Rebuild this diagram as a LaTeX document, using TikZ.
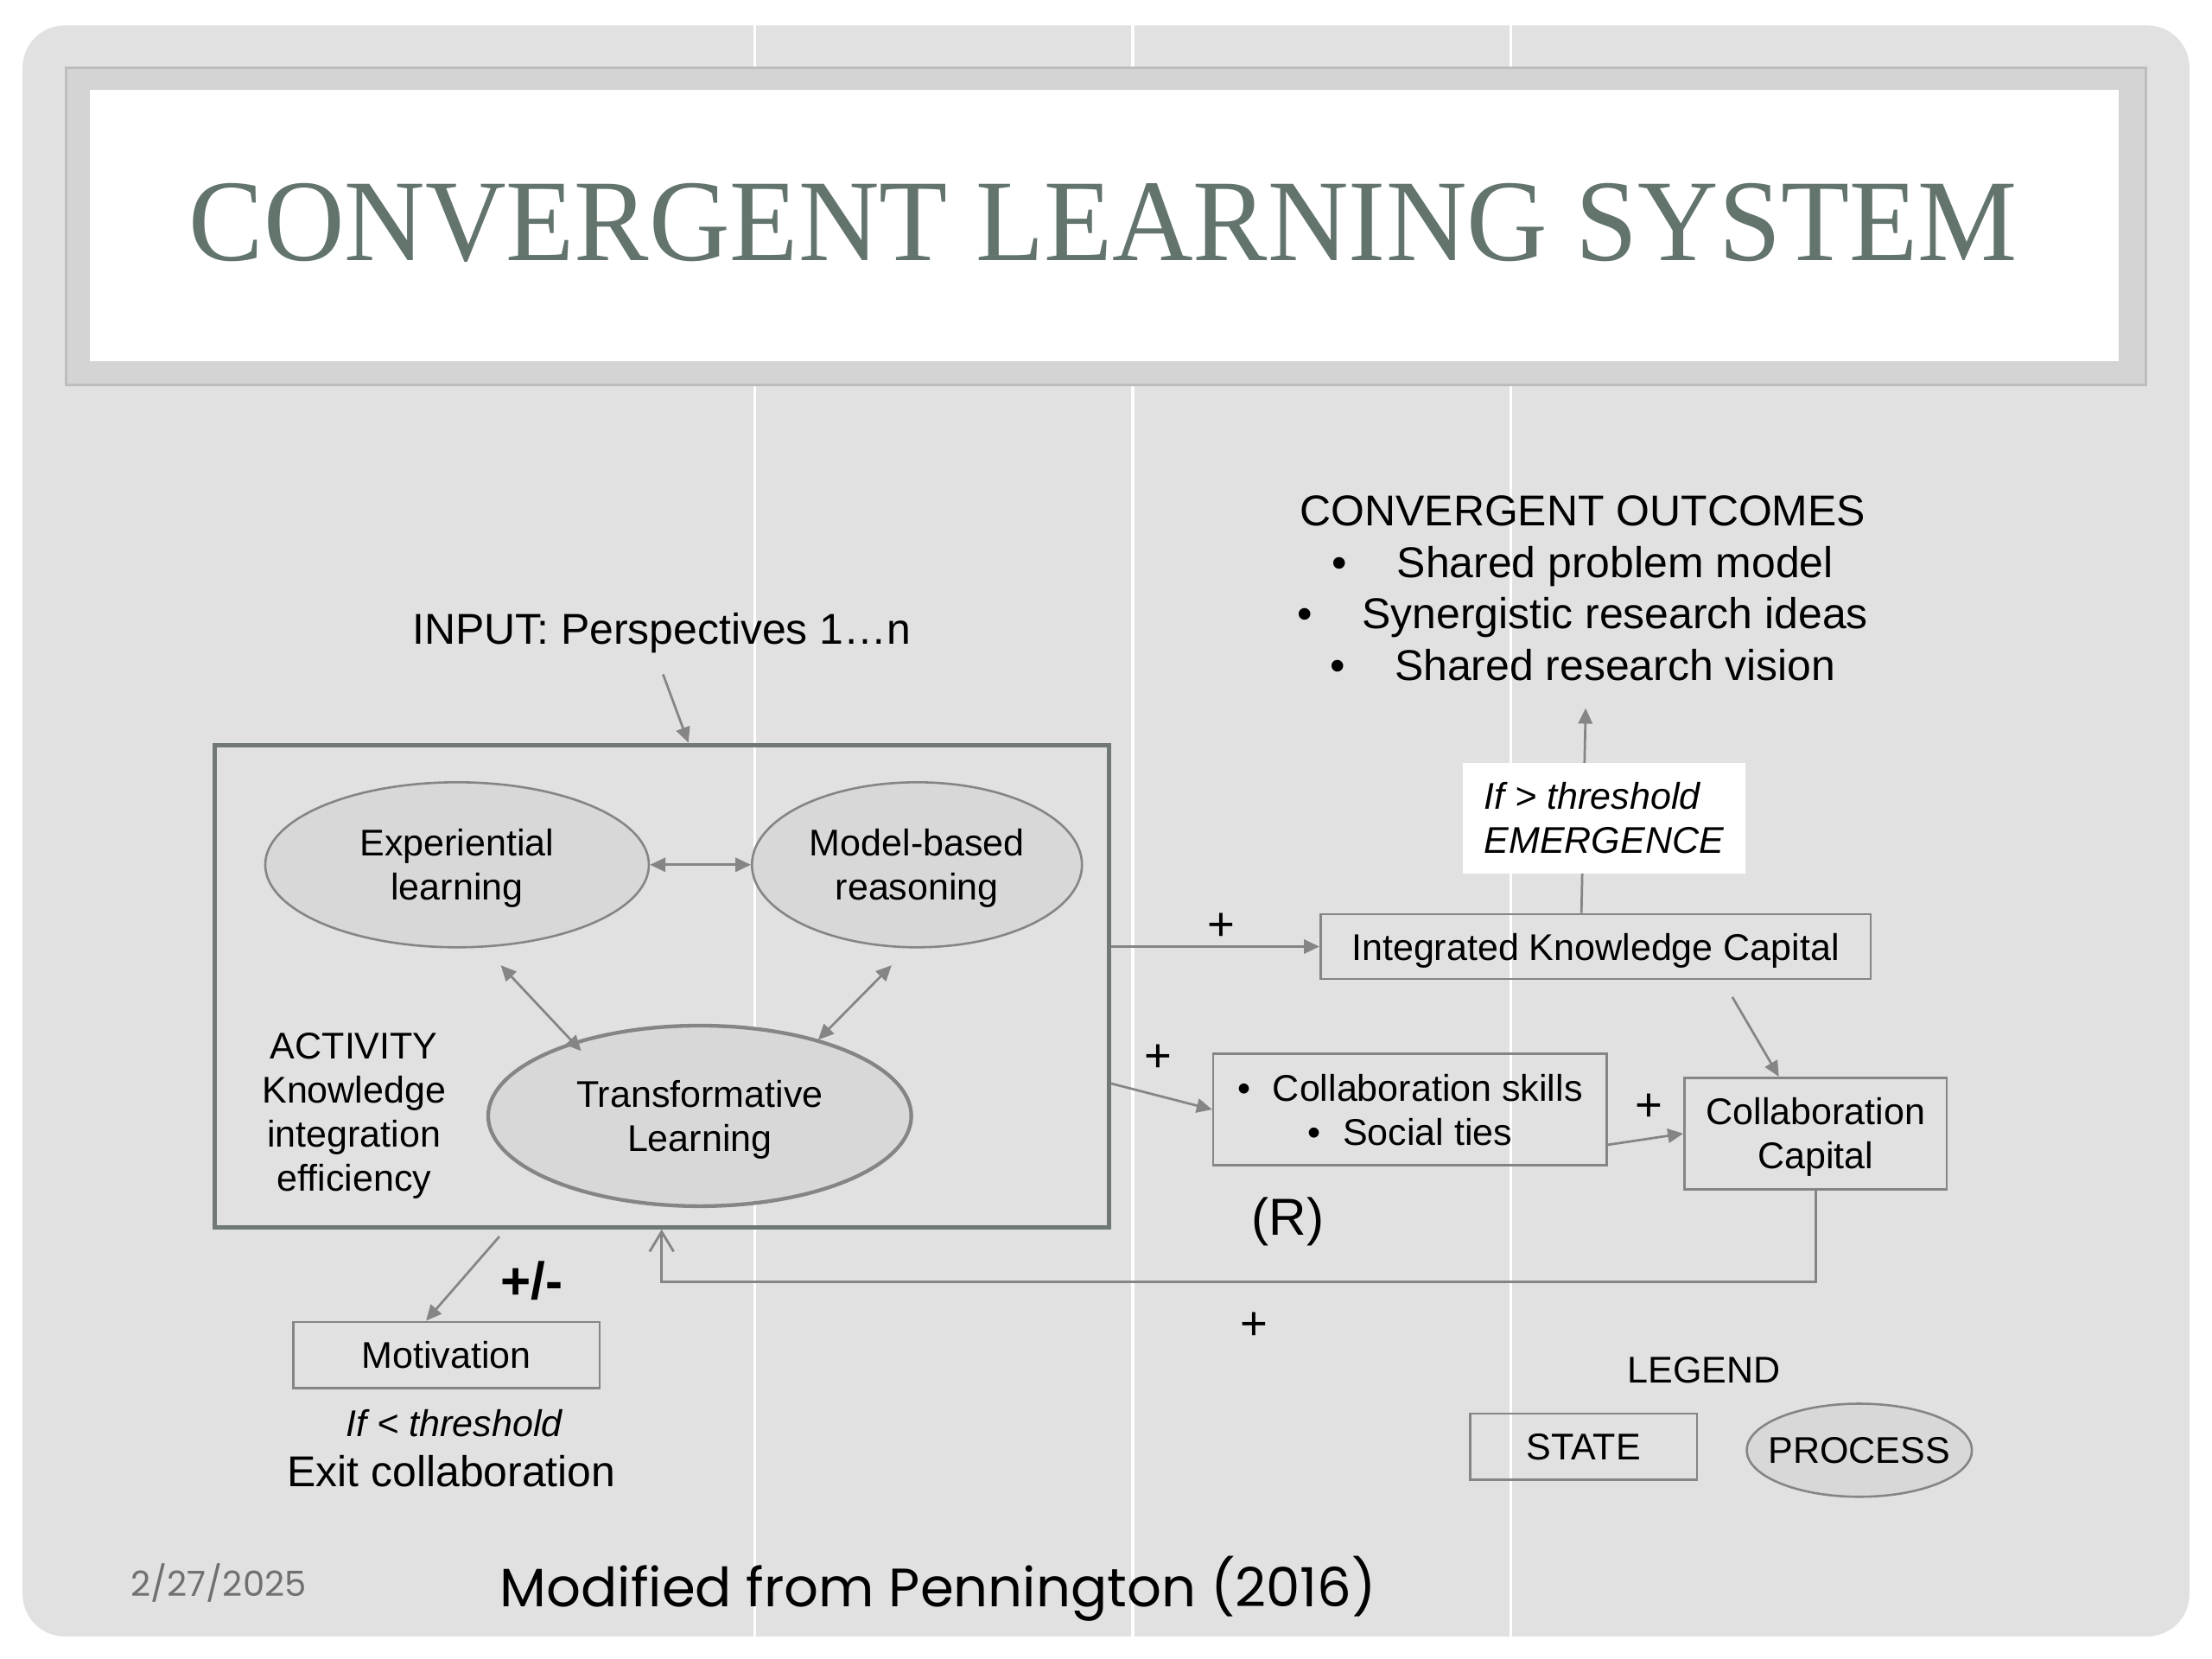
\documentclass[tikz,border=0pt]{standalone}
\usepackage{fontspec}
\setmainfont{Liberation Sans}
\newfontfamily\titlefont{Liberation Serif}
\newfontfamily\footfont{Poppins}
\usetikzlibrary{shapes.geometric,arrows.meta,calc,positioning}

\definecolor{slidebg}{HTML}{E1E1E1}
\definecolor{bandgray}{HTML}{D4D4D4}
\definecolor{bandline}{HTML}{BDBDBD}
\definecolor{ellfill}{HTML}{D8D8D8}
\definecolor{linegray}{HTML}{858585}
\definecolor{actline}{HTML}{6F7873}
\definecolor{titlegreen}{HTML}{62746C}
\definecolor{dategray}{HTML}{707070}

\newcommand{\smallfs}{\fontsize{15}{17.8}\selectfont}
\newcommand{\bigfs}{\fontsize{17.4}{20.8}\selectfont}

\begin{document}
\begin{tikzpicture}[x=0.02cm,y=-0.02cm,>={Triangle[length=0.22cm,width=0.2cm]},
  statebox/.style={draw=linegray,line width=0.9pt,rectangle,inner sep=0pt,text depth=0pt,font=\smallfs},
  process/.style={draw=linegray,fill=ellfill,ellipse,inner sep=0pt,text depth=0pt,line width=0.9pt,font=\smallfs,align=center},
  arr/.style={->,draw=linegray,line width=0.95pt},
  darr/.style={<->,draw=linegray,line width=0.95pt},
  fbarr/.style={-{Straight Barb[length=0.28cm,width=0.34cm]},draw=linegray,line width=1pt},
  sign/.style={font=\fontsize{19}{22}\selectfont}]
\useasboundingbox (0,0) rectangle (1568,1176);

% slide
\fill[white] (0,0) rectangle (1568,1176);
\fill[slidebg,rounded corners=0.6cm] (16,18) rectangle (1552,1160);
\foreach \xv in {535,803,1071}
  \draw[white,line width=1.2pt] (\xv,18) -- (\xv,1160);
\filldraw[fill=bandgray,draw=bandline,line width=1.2pt] (47,48) rectangle (1521,273);
\fill[white] (64,64) rectangle (1502,256);
\node[font=\titlefont\fontsize{47}{50}\selectfont,text=titlegreen] (title) at (782,158)
  {\scalebox{0.961}[1]{CONVERGENT LEARNING SYSTEM}};

% activity
\node[draw=actline,line width=1.7pt,minimum width=12.68cm,minimum height=6.84cm,inner sep=0pt] (act) at (469,699) {};
\node[process,minimum width=5.44cm,minimum height=2.34cm] (exp) at (324,613) {Experiential\\learning};
\node[process,minimum width=4.68cm,minimum height=2.34cm] (mbr) at (650,613) {Model-based\\reasoning};
\node[process,line width=1.5pt,minimum width=6cm,minimum height=2.56cm] (trans) at (496,791) {Transformative\\Learning};
\node[font=\smallfs,align=center,anchor=north,inner sep=0pt] (actlbl) at (251,732)
  {ACTIVITY\\Knowledge\\integration\\efficiency};

\draw[darr] (exp.east) -- (mbr.west);
\draw[darr] ([xshift=0.62cm,yshift=-0.24cm]exp.south) -- ([xshift=-1.68cm,yshift=0.92cm]trans.center);
\draw[darr] ([xshift=-0.36cm,yshift=-0.24cm]mbr.south) -- ([xshift=1.68cm,yshift=1.08cm]trans.center);

% input
\node[font=\bigfs] (inp) at (469,449) {INPUT: Perspectives 1…n};
\coordinate (inptail) at (470,478);
\draw[arr] (inptail) -- ([xshift=0.38cm]act.north);

% states
\node[statebox,minimum width=7.8cm,minimum height=0.92cm] (ikc) at (1131,671) {Integrated Knowledge Capital};
\node[statebox,minimum width=5.58cm,minimum height=1.58cm,align=center] (skl) at (999.5,786.5)
  {\textbullet\hspace{9pt}Collaboration skills\\\textbullet\hspace{9pt}Social ties};
\node[statebox,minimum width=3.72cm,minimum height=1.58cm,align=center] (ccap) at (1287,803.5) {Collaboration\\Capital};
\node[statebox,minimum width=4.34cm,minimum height=0.94cm] (mot) at (316.5,960.5) {Motivation};

% outcomes
\node[font=\bigfs,align=center,anchor=north,inner sep=0pt] (outc) at (1122,351)
  {CONVERGENT OUTCOMES\\
   \textbullet\hspace{20pt}Shared problem model\\
   \textbullet\hspace{20pt}Synergistic research ideas\\
   \textbullet\hspace{20pt}Shared research vision};
\coordinate (outtip) at (1124,502);
\draw[arr] ([xshift=-0.2cm]ikc.north) -- (outtip);
\node[fill=white,minimum width=4cm,minimum height=1.56cm,align=left,font=\smallfs\itshape,inner sep=0pt] (emg) at (1137,580)
  {If > threshold\\EMERGENCE};

% links
\draw[arr] (act.east |- ikc.west) -- (ikc.west);
\draw[arr] ([yshift=-1.38cm]act.east) -- (skl.west);
\draw[arr] ([yshift=-0.5cm]skl.east) -- (ccap.west);
\draw[arr] ([xshift=1.94cm,yshift=-0.24cm]ikc.south) -- ([xshift=-0.52cm]ccap.north);
\draw[fbarr] (ccap.south) -- ++(0,65) -| (act.south);
\draw[arr] ([xshift=-2.3cm,yshift=-0.1cm]act.south) -- ([xshift=-0.29cm]mot.north);

\node[sign] (s1) at (866,657) {+};
\node[sign] (s2) at (821,750) {+};
\node[sign] (s3) at (1169,785) {+};
\node[sign] (s4) at (889,940) {+};
\node[font=\fontsize{21}{25}\selectfont\bfseries] (pm) at (377,908) {+/-};
\node[font=\fontsize{21}{25}\selectfont] (rlbl) at (913,866) {(R)};
\node[font=\smallfs\itshape] (lowthr) at (322,1009) {If < threshold};
\node[font=\bigfs] (exitc) at (320,1043) {Exit collaboration};

% legend
\node[font=\smallfs] (leg) at (1208,971) {LEGEND};
\node[statebox,minimum width=3.22cm,minimum height=0.94cm] (lgst) at (1122.5,1025.5) {STATE};
\node[process,inner xsep=-0.16cm,minimum width=3.16cm,minimum height=1.32cm] (lgpr) at (1318,1028) {PROCESS};

% footer
\node[font=\footfont\fontsize{14}{17}\selectfont,text=dategray] (date) at (155,1122) {2/27/2025};
\node[font=\footfont\fontsize{21.8}{26}\selectfont] (src) at (665,1126) {Modified from Pennington (2016)};
\end{tikzpicture}
\end{document}
